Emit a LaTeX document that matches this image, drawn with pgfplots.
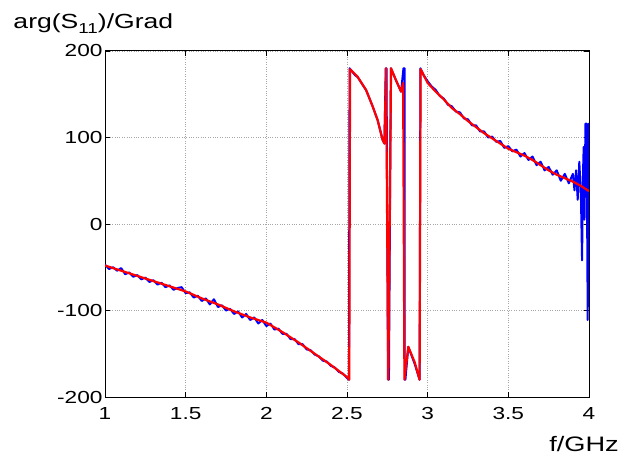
\documentclass[border=0pt]{standalone}
\usepackage{fontspec}
\setmainfont{Liberation Sans}[FakeStretch=1.3]
\usepackage{pgfplots}
\usepackage{pgfplotstable}
\pgfplotsset{compat=1.18}
\pgfplotstableread{
x y
1.000 -47
1.025 -52
1.050 -50
1.075 -54
1.100 -51
1.125 -58
1.150 -56
1.175 -61
1.200 -59
1.225 -64
1.250 -62
1.275 -67
1.300 -65
1.325 -70
1.350 -68
1.375 -73
1.400 -71
1.425 -76
1.450 -74
1.475 -73
1.500 -80
1.525 -79
1.550 -85
1.575 -83
1.600 -89
1.625 -86
1.650 -93
1.675 -87
1.700 -96
1.725 -94
1.750 -100
1.775 -98
1.800 -104
1.825 -101
1.850 -108
1.875 -104
1.900 -111
1.925 -108
1.950 -115
1.975 -111
2.000 -118
2.025 -115
2.050 -122
2.075 -121
2.100 -127
2.125 -127
2.150 -133
2.175 -133
2.200 -139
2.225 -139
2.250 -145
2.275 -146
2.300 -151
2.325 -153
2.350 -158
2.375 -159
2.400 -164
2.425 -166
2.450 -171
2.475 -173
2.500 -178
2.512 -180
2.516 180
2.550 172
2.566 170
2.600 160
2.618 155
2.659 136
2.690 120
2.721 97
2.732 93
2.740 180
2.745 180
2.754 -180
2.760 -180
2.772 180
2.804 166
2.835 153
2.850 180
2.857 180
2.858 -180
2.862 -180
2.880 -142
2.920 -162
2.950 -180
2.955 180
2.975 172
3.000 165
3.025 159
3.050 155
3.075 148
3.100 145
3.125 138
3.150 136
3.175 130
3.200 129
3.225 122
3.250 121
3.275 114
3.300 114
3.325 107
3.350 107
3.375 100
3.400 101
3.425 95
3.450 96
3.475 88
3.500 90
3.525 84
3.550 86
3.575 78
3.600 82
3.625 74
3.650 78
3.675 68
3.700 72
3.725 62
3.750 66
3.775 57
3.800 62
3.825 50
3.850 58
3.875 47
3.900 58
3.910 39
3.920 62
3.930 28
3.940 72
3.950 32
3.957 -42
3.963 60
3.967 89
3.972 5
3.978 116
3.984 116
3.988 20
3.992 -111
3.996 116
4.000 -60
}\bluedata
\pgfplotstableread{
x y
1.00 -48
1.10 -54
1.20 -60
1.30 -66
1.40 -72
1.50 -78
1.60 -86
1.70 -93
1.80 -101
1.90 -108
2.00 -114
2.10 -125
2.20 -137
2.30 -150
2.40 -163
2.50 -177
2.514 -180
2.519 179
2.566 170
2.618 155
2.659 136
2.690 120
2.721 97
2.732 93
2.742 180
2.756 -180
2.773 180
2.804 166
2.835 153
2.848 163
2.856 -180
2.880 -142
2.920 -160
2.950 -180
2.956 179
3.00 163
3.05 153
3.10 144
3.15 134
3.20 127
3.25 119
3.30 112
3.35 105
3.40 99
3.45 93
3.50 87
3.55 83
3.60 79
3.65 74
3.70 68
3.75 62
3.80 57
3.85 53
3.90 49
3.95 44
4.00 38
}\reddata
\begin{document}
\begin{tikzpicture}
\begin{axis}[
  at={(0,0)}, anchor=south west,
  scale only axis, width=484bp, height=346bp,
  xmin=1, xmax=4, ymin=-200, ymax=200,
  xtick={1,1.5,2,2.5,3,3.5,4},
  xticklabels={1,1.5,2,2.5,3,3.5,4},
  ytick={-200,-100,0,100,200},
  yticklabels={-200,-100,0,100,200},
  tick align=inside, major tick length=5bp,
  tick style={black, line width=0.6pt},
  grid=major, grid style={dotted, gray!70, line width=0.6pt},
  axis line style={line width=1pt},
  tick label style={font=\fontsize{17.5}{19}\selectfont},
  xticklabel style={yshift=-7bp},
  yticklabel style={xshift=1bp},
]
\addplot[blue, line width=2pt, line join=round] table[x=x,y=y] {\bluedata};
\addplot[red, line width=2.2pt, line join=round] table[x=x,y=y] {\reddata};
\end{axis}
\node[anchor=base west, inner sep=0, font=\fontsize{20.5}{24}\selectfont] at (-91.7bp,368.7bp) {arg(S\raisebox{-5bp}{\fontsize{14.5}{16}\selectfont 11})/Grad};
\node[anchor=base east, inner sep=0, font=\fontsize{21}{24}\selectfont] at (514bp,-54bp) {f/GHz};
\pgfresetboundingbox
\path[use as bounding box] (-105bp,-59bp) rectangle (527bp,397bp);
\end{tikzpicture}
\end{document}
